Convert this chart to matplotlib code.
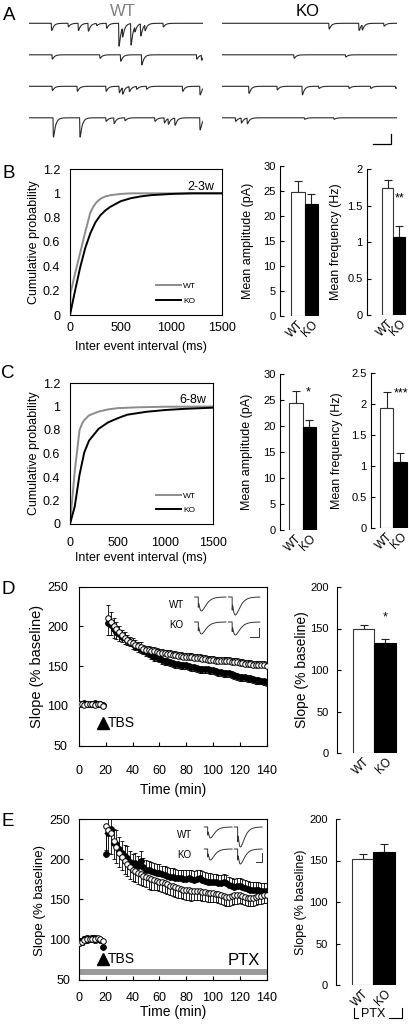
import numpy as np
import matplotlib
matplotlib.use('Agg')
import matplotlib.pyplot as plt
import matplotlib.transforms as mtrans

plt.rcParams['font.family'] = ['Liberation Sans', 'DejaVu Sans']

# ---------------- DATA ----------------
groups = ['WT', 'KO']

# Panel A: spontaneous events per sweep (position as fraction of sweep, amplitude)
wt_sweeps = [
    [(0.128, 10), (0.224, 5), (0.282, 10), (0.339, 11), (0.387, 3), (0.444, 7), (0.515, 32),
     (0.536, 13), (0.584, 30), (0.607, 7), (0.640, 17), (0.665, 8), (0.770, 5)],
    [(0.132, 6), (0.406, 5), (0.525, 9), (0.646, 14), (0.962, 6), (0.990, 7)],
    [(0.132, 6), (0.276, 7), (0.441, 7), (0.517, 9), (0.536, 9), (0.575, 7), (0.617, 4),
     (0.674, 4), (0.881, 7), (0.981, 12)],
    [(0.138, 27), (0.291, 27), (0.441, 5), (0.487, 8), (0.550, 4), (0.722, 5), (0.776, 7),
     (0.799, 8), (0.837, 10), (0.981, 17)],
]
ko_sweeps = [
    [(0.610, 8), (0.781, 10), (0.800, 7), (0.924, 4)],
    [(0.410, 5), (0.705, 3)],
    [(0.152, 10), (0.314, 5), (0.457, 12), (0.552, 3), (0.724, 3), (0.848, 3), (0.990, 3)],
    [(0.076, 5), (0.109, 7), (0.143, 8), (0.470, 2), (0.638, 2)],
]

# Panel B (2-3w) cumulative probability
b_wt_x = [0, 5, 50, 100, 150, 200, 230, 260, 300, 350, 400, 500, 600, 1500]
b_wt_y = [0, 0.18, 0.34, 0.51, 0.68, 0.84, 0.89, 0.925, 0.955, 0.975, 0.985, 0.995, 1.0, 1.0]
b_ko_x = [0, 50, 100, 150, 200, 250, 300, 350, 400, 500, 600, 700, 800, 1000, 1200, 1500]
b_ko_y = [0, 0.2, 0.39, 0.55, 0.67, 0.76, 0.82, 0.86, 0.89, 0.935, 0.96, 0.975, 0.985, 0.995, 1.0, 1.0]
b_amp = [24.8, 22.4]
b_amp_err = [2.2, 2.0]
b_freq = [1.74, 1.07]
b_freq_err = [0.11, 0.15]

# Panel C (6-8w)
c_wt_x = [0, 50, 100, 130, 150, 200, 300, 400, 500, 700, 1000, 1500]
c_wt_y = [0, 0.45, 0.80, 0.86, 0.885, 0.925, 0.957, 0.975, 0.986, 0.993, 0.998, 1.0]
c_ko_x = [0, 50, 100, 150, 200, 300, 400, 500, 600, 800, 1000, 1200, 1500]
c_ko_y = [0, 0.15, 0.42, 0.61, 0.71, 0.81, 0.865, 0.90, 0.93, 0.955, 0.97, 0.98, 0.99]
c_amp = [24.5, 19.8]
c_amp_err = [2.3, 1.4]
c_freq = [1.94, 1.06]
c_freq_err = [0.25, 0.15]

# Panel D: LTP time course
d_base_t = [0, 2, 4, 6, 8, 10, 12, 14, 16, 18]
d_base_wt = [102, 103, 101, 102, 103, 102, 101, 103, 102, 100]
d_base_ko = [103, 102, 104, 103, 102, 103, 104, 102, 103, 101]
d_base_err = [2, 2, 2, 2, 2, 2, 2, 2, 2, 2]
d_post_t = list(range(22, 141, 2))
d_post_wt = [211, 206, 201, 197, 193, 189, 186, 183, 181, 179,
             177, 175, 174, 172, 171, 170, 169, 169, 168, 167,
             167, 166, 165, 165, 164, 164, 163, 163, 162, 162,
             161, 161, 160, 160, 160, 159, 159, 158, 158, 158,
             157, 157, 157, 156, 156, 156, 155, 155, 155, 154,
             154, 153, 153, 153, 152, 152, 151, 151, 151, 150]
d_post_ko = [204, 202, 197, 193, 190, 187, 185, 183, 181, 178,
             176, 174, 172, 170, 168, 166, 164, 162, 161, 160,
             158, 157, 156, 155, 154, 153, 153, 152, 151, 151,
             150, 149, 149, 148, 147, 147, 146, 146, 145, 145,
             144, 143, 143, 142, 141, 141, 140, 139, 138, 137,
             137, 136, 135, 135, 134, 133, 133, 132, 131, 130]
d_post_wt_err = [16, 12, 10, 9, 8, 7, 7, 6, 6, 6,
                 6, 6, 6, 5, 5, 5, 5, 5, 5, 5,
                 5, 5, 5, 5, 5, 5, 5, 5, 5, 5,
                 5, 5, 5, 5, 5, 5, 5, 5, 5, 5,
                 5, 5, 5, 5, 5, 5, 5, 5, 5, 5,
                 5, 5, 5, 5, 5, 5, 5, 5, 5, 5]
d_post_ko_err = [15, 13, 11, 9, 8, 7, 7, 6, 6, 6,
                 6, 6, 5, 5, 5, 5, 5, 5, 5, 5,
                 5, 5, 5, 5, 5, 5, 5, 5, 5, 5,
                 5, 5, 5, 5, 5, 5, 5, 5, 5, 5,
                 5, 5, 5, 5, 5, 5, 5, 5, 5, 5,
                 5, 5, 5, 5, 5, 5, 5, 5, 5, 5]
d_bar = [149.2, 132.8]
d_bar_err = [5.0, 4.2]

# Panel E: LTP with PTX
e_base_t = [0, 2, 4, 6, 8, 10, 12, 14, 16, 18]
e_base_wt = [96, 97, 99, 100, 101, 101, 100, 102, 101, 98]
e_base_ko = [98, 97, 100, 101, 100, 102, 101, 100, 99, 90]
e_base_err = [4, 4, 4, 4, 4, 4, 4, 4, 4, 6]
e_post_t = list(range(20, 141, 2))
e_post_wt = [241, 236, 232, 222, 215, 208, 203, 198, 194, 190,
             187, 185, 183, 181, 179, 178, 176, 175, 174, 173,
             172, 171, 170, 169, 167, 166, 165, 164, 163, 162,
             161, 161, 160, 160, 160, 160, 159, 159, 158, 158,
             158, 157, 156, 155, 154, 153, 153, 154, 155, 155,
             155, 154, 153, 152, 152, 152, 153, 154, 154, 155,
             155]
e_post_ko = [207, 232, 238, 220, 219, 212, 208, 204, 202, 197,
             193, 195, 192, 198, 190, 187, 186, 185, 184, 183,
             183, 181, 180, 179, 178, 178, 177, 176, 176, 175,
             175, 176, 175, 174, 175, 176, 174, 173, 172, 172,
             172, 171, 170, 170, 171, 170, 168, 166, 165, 166,
             166, 165, 164, 163, 162, 162, 161, 161, 160, 160,
             160]
e_post_wt_err = [30, 28, 25, 22, 20, 18, 17, 16, 15, 15,
                 14, 14, 14, 13, 13, 13, 13, 13, 12, 12,
                 12, 12, 12, 12, 12, 12, 12, 12, 12, 12,
                 12, 12, 12, 11, 11, 11, 11, 11, 11, 11,
                 11, 11, 11, 11, 11, 11, 11, 11, 11, 11,
                 10, 10, 10, 10, 10, 10, 10, 10, 10, 10,
                 10]
e_post_ko_err = [25, 22, 20, 18, 17, 16, 15, 14, 14, 13,
                 13, 13, 12, 12, 12, 12, 12, 11, 11, 11,
                 11, 11, 11, 11, 11, 11, 11, 11, 11, 11,
                 11, 11, 11, 11, 11, 11, 11, 11, 11, 11,
                 10, 10, 10, 10, 10, 10, 10, 10, 10, 10,
                 10, 10, 10, 10, 10, 10, 10, 10, 10, 10,
                 10]
e_bar = [151.8, 160.6]
e_bar_err = [6.0, 9.3]

tbs_time = 18
ptx_range = (56, 63)

# fEPSP sample amplitudes (baseline, post-TBS)
d_fepsp_wt = [14, 18]
d_fepsp_ko = [12, 13]
e_fepsp_wt = [11, 20]
e_fepsp_ko = [11, 15]

# ---------------- LAYOUT HELPERS ----------------
W, H = 410, 1024
fig = plt.figure(figsize=(W / 100, H / 100), dpi=100)


def add_ax(l, t, r, b):
    return fig.add_axes([l / W, 1 - b / H, (r - l) / W, (b - t) / H])


def fx(px):
    return px / W


def fy(py):
    return 1 - py / H


def letter(s, px, py):
    fig.text(fx(px), fy(py), s, fontsize=13.5, ha='center', va='center')


YL = 7  # offset from label centre to its anchor (rotated y labels)

# ---------------- PANEL A ----------------
tt = np.linspace(0, 1, 2000)


def sweep(events, tau=0.012, rise=0.0012):
    y = np.zeros_like(tt)
    for pos, amp in events:
        d = tt - pos
        m = d >= 0
        y[m] -= amp * (1 - np.exp(-d[m] / rise)) * np.exp(-d[m] / tau)
    return y


row_gap = 31.5
for sweeps, (l, r) in ((wt_sweeps, (29, 203)), (ko_sweeps, (222, 397))):
    ax = add_ax(l, 0, r, 150)
    ax.set_xlim(0, 1)
    ax.set_ylim(-150, 0)
    ax.axis('off')
    for i, ev in enumerate(sweeps):
        ax.plot(tt, sweep(ev) - (23.3 + i * row_gap), color='#2a2a2a', lw=0.8)
    if sweeps is ko_sweeps:
        ax.plot([0.865, 0.965, 0.965], [-144, -144, -134], color='black', lw=0.9,
                solid_joinstyle='miter')

fig.text(fx(123), fy(12), 'WT', color='#808080', fontsize=12, ha='center', va='center')
fig.text(fx(308), fy(12), 'KO', color='black', fontsize=12, ha='center', va='center')
letter('A', 9, 15)


# ---------------- CUMULATIVE PANELS ----------------
def cum_panel(t, r, b, wx, wy, kx, ky, age, xpad):
    ax = add_ax(70, t, r, b)
    ax.plot(wx, wy, color='#8c8c8c', lw=1.4, label='WT')
    ax.plot(kx, ky, color='black', lw=1.4, label='KO')
    ax.set_xlim(0, 1500)
    ax.set_ylim(0, 1.2)
    ax.set_xticks([0, 500, 1000, 1500])
    ax.set_yticks([0, 0.2, 0.4, 0.6, 0.8, 1.0, 1.2])
    ax.set_yticklabels(['0', '0.2', '0.4', '0.6', '0.8', '1', '1.2'])
    ax.tick_params(axis='both', direction='in', length=0, labelsize=9)
    ax.tick_params(axis='y', pad=7)
    ax.tick_params(axis='x', pad=xpad)
    for s in ax.spines.values():
        s.set_linewidth(0.8)
    ax.set_ylabel('Cumulative probability', fontsize=9)
    ax.yaxis.set_label_coords(fx(33 + YL), fy((t + b) / 2), transform=fig.transFigure)
    ax.set_xlabel('Inter event interval (ms)', fontsize=9)
    ax.text(0.95, 0.88, age, transform=ax.transAxes, fontsize=9, ha='right', va='center')
    ax.legend(loc='lower right', bbox_to_anchor=(1 - (r - 196) / (r - 70), 0.07),
              frameon=False, fontsize=6, handlelength=3.0, handletextpad=0.3,
              labelspacing=0.8, borderaxespad=0, borderpad=0)
    return ax


axB = cum_panel(169, 222, 315, b_wt_x, b_wt_y, b_ko_x, b_ko_y, '2-3w', 5)
axB.xaxis.set_label_coords(fx(141), fy(341), transform=fig.transFigure)
letter('B', 9, 174)

axC = cum_panel(383, 213, 524, c_wt_x, c_wt_y, c_ko_x, c_ko_y, '6-8w', 9)
axC.xaxis.set_label_coords(fx(141), fy(552), transform=fig.transFigure)
letter('C', 8, 374)


# ---------------- BAR PANELS ----------------
def bar_panel(spine_x, bar_x0, bar_w, top_px, bot_px, ymax, vals, errs, yticks, ylabels,
              ylabel, ylabel_x, ylabel_fs=9, tick_fs=8, tick_pad=3, star=None, star_xy=None):
    right = bar_x0 + 2 * bar_w + 3
    ax = add_ax(spine_x, top_px, right, bot_px)
    ax.bar([0, 1], vals, width=1.0, color=['white', 'black'], edgecolor=['#333333', 'black'],
           linewidth=0.8, zorder=2)
    ax.errorbar([0, 1], vals, yerr=[[0, 0], errs], fmt='none', ecolor='#222222',
                elinewidth=0.8, capsize=3, capthick=0.8, zorder=1)
    ax.set_xlim(-0.5 - (bar_x0 - spine_x) / bar_w, 1.5 + 3 / bar_w)
    ax.set_ylim(0, ymax)
    ax.set_yticks(yticks)
    ax.set_yticklabels(ylabels)
    ax.set_xticks([0, 1])
    ax.set_xticklabels(groups, rotation=45, ha='right', va='top', rotation_mode='anchor')
    for s in ('top', 'right', 'bottom'):
        ax.spines[s].set_visible(False)
    ax.spines['left'].set_linewidth(0.8)
    ax.tick_params(axis='y', direction='in', length=3, width=0.8, labelsize=tick_fs, pad=tick_pad)
    ax.tick_params(axis='x', length=0, labelsize=8.5, pad=2)
    ax.set_ylabel(ylabel, fontsize=ylabel_fs)
    ax.yaxis.set_label_coords(fx(ylabel_x + YL), fy((top_px + bot_px) / 2),
                              transform=fig.transFigure)
    if star:
        ax.text(star_xy[0], star_xy[1], star, fontsize=9, ha='center', va='center')
    return ax


bar_panel(280, 291, 13.5, 166, 316, 30, b_amp, b_amp_err, [0, 5, 10, 15, 20, 25, 30],
          ['0', '5', '10', '15', '20', '25', '30'], 'Mean amplitude (pA)', 247)
bar_panel(367, 382, 11.5, 169, 315, 2, b_freq, b_freq_err, [0, 0.5, 1, 1.5, 2],
          ['0', '0.5', '1', '1.5', '2'], 'Mean frequency (Hz)', 335, star='**', star_xy=(1.0, 1.6))
bar_panel(280, 289, 13.5, 374, 530, 30, c_amp, c_amp_err, [0, 5, 10, 15, 20, 25, 30],
          ['0', '5', '10', '15', '20', '25', '30'], 'Mean amplitude (pA)', 246, star='*',
          star_xy=(0.95, 26.5))
bar_panel(371, 380, 13.5, 373, 528, 2.5, c_freq, c_freq_err, [0, 0.5, 1, 1.5, 2, 2.5],
          ['0', '0.5', '1', '1.5', '2', '2.5'], 'Mean frequency (Hz)', 336, star='***',
          star_xy=(1.05, 2.17))
bar_panel(337, 353, 21.5, 587, 753, 200, d_bar, d_bar_err, [0, 50, 100, 150, 200],
          ['0', '50', '100', '150', '200'], 'Slope (% baseline)', 302, ylabel_fs=10,
          tick_pad=6, star='*', star_xy=(0.98, 163))
bar_panel(336, 352, 21.5, 819, 985, 200, e_bar, e_bar_err, [0, 50, 100, 150, 200],
          ['0', '50', '100', '150', '200'], 'Slope (% baseline)', 300, ylabel_fs=9,
          tick_pad=6)
# PTX bracket under E bars
for xs, ys in (([fx(354), fx(354), fx(358)], [fy(1008), fy(1018), fy(1018)]),
               ([fx(389), fx(402), fx(402)], [fy(1018), fy(1018), fy(1008)])):
    fig.add_artist(plt.Line2D(xs, ys, color='black', lw=0.8, transform=fig.transFigure))
fig.text(fx(373), fy(1014), 'PTX', fontsize=9, ha='center', va='center')


# ---------------- TIME COURSE PANELS ----------------
def fepsp(x, amp, onset=0.12, tpk=0.1):
    y = np.zeros_like(x)
    d = x - onset
    m = d >= 0
    y[m] = -amp * (d[m] / tpk) * np.exp(1 - d[m] / tpk) - 0.75 * amp * np.exp(-d[m] / 0.008)
    return y


def inset(l, t, r, b, wt_amps, ko_amps, wt_base, ko_base, sb):
    ax = add_ax(l, t, r, b)
    ax.set_xlim(-0.05, 2.15)
    ax.set_ylim(-(b - t), 0)
    ax.axis('off')
    xs = np.linspace(0, 1, 400)
    for k in range(2):
        ax.plot(xs + k * 1.08, fepsp(xs, wt_amps[k]) + wt_base, color='#333333', lw=0.7)
        ax.plot(xs + k * 1.08, fepsp(xs, ko_amps[k]) + ko_base, color='#333333', lw=0.7)
    ax.plot(sb[0], sb[1], color='#333333', lw=0.7)


def time_panel(t, b, base_t, base_wt, base_ko, base_err, post_t, post_wt, post_ko,
               wt_err, ko_err, wt_up, xpad, ypad, ylab_fs, ptx=False):
    ax = add_ax(79, t, 266.5, b)
    bt = np.array(base_t + post_t)
    wt = np.array(base_wt + post_wt)
    ko = np.array(base_ko + post_ko)
    we = np.array(base_err + wt_err)
    ke = np.array(base_err + ko_err)
    z = np.zeros_like(we)
    wyerr = [z, we] if wt_up else [we, z]
    kyerr = [ke, z] if wt_up else [z, ke]
    ax.errorbar(bt, ko, yerr=kyerr, fmt='none', ecolor='black', elinewidth=0.6, capsize=1.6,
                capthick=0.6, zorder=2)
    ax.errorbar(bt, wt, yerr=wyerr, fmt='none', ecolor='black', elinewidth=0.6, capsize=1.6,
                capthick=0.6, zorder=2)
    ax.plot(bt, ko, 'o', ms=4.2, mfc='black', mec='black', mew=0.6, ls='none', zorder=3)
    ax.plot(bt, wt, 'o', ms=4.0, mfc='white', mec='black', mew=0.7, ls='none', zorder=4)
    ax.set_xlim(0, 140)
    ax.set_ylim(50, 250)
    ax.set_xticks(range(0, 141, 20))
    ax.set_yticks(range(50, 251, 50))
    ax.tick_params(axis='both', direction='in', length=3, width=0.8, labelsize=9)
    ax.tick_params(axis='x', pad=xpad)
    ax.tick_params(axis='y', pad=ypad)
    for s in ax.spines.values():
        s.set_linewidth(0.8)
    ax.set_ylabel('Slope (% baseline)', fontsize=ylab_fs)
    ax.set_xlabel('Time (min)', fontsize=10)
    tr = mtrans.blended_transform_factory(ax.transData, ax.transAxes)
    ya = 0.145 if not ptx else 0.13
    ax.plot([tbs_time], [ya], marker='^', ms=8, color='black', transform=tr, clip_on=False)
    ax.text(tbs_time + 3.5, ya - 0.005, 'TBS', transform=tr, fontsize=10, ha='left', va='center')
    if ptx:
        ax.axhspan(ptx_range[0], ptx_range[1], color='#9a9a9a', lw=0, zorder=1)
        ax.text(0.965, 0.12, 'PTX', transform=ax.transAxes, fontsize=12, ha='right', va='center')
    return ax


axD = time_panel(586.7, 745.7, d_base_t, d_base_wt, d_base_ko, d_base_err, d_post_t,
                 d_post_wt, d_post_ko, d_post_wt_err, d_post_ko_err, True, 14, 8, 10.5)
axD.yaxis.set_label_coords(fx(37 + YL), fy(666), transform=fig.transFigure)
axD.xaxis.set_label_coords(fx(173), fy(783), transform=fig.transFigure)
letter('D', 8, 589)
inset(193, 593, 262, 640, d_fepsp_wt, d_fepsp_ko, -4, -29,
      ([1.76, 2.06, 2.06], [-43.5, -43.5, -35]))
fig.text(fx(177), fy(605), 'WT', fontsize=7, ha='center', va='center')
fig.text(fx(176), fy(625), 'KO', fontsize=7, ha='center', va='center')

axE = time_panel(819, 979.5, e_base_t, e_base_wt, e_base_ko, e_base_err, e_post_t,
                 e_post_wt, e_post_ko, e_post_wt_err, e_post_ko_err, False, 9, 6.5, 9.5, ptx=True)
axE.yaxis.set_label_coords(fx(39 + YL), fy(900), transform=fig.transFigure)
axE.xaxis.set_label_coords(fx(173), fy(1005), transform=fig.transFigure)
letter('E', 8, 822)
inset(203, 823, 264, 866, e_fepsp_wt, e_fepsp_ko, -4, -26,
      ([1.85, 2.08, 2.08], [-39, -39, -30]))
fig.text(fx(185), fy(835), 'WT', fontsize=7, ha='center', va='center')
fig.text(fx(184), fy(855), 'KO', fontsize=7, ha='center', va='center')

fig.savefig('out.png', dpi=100)
